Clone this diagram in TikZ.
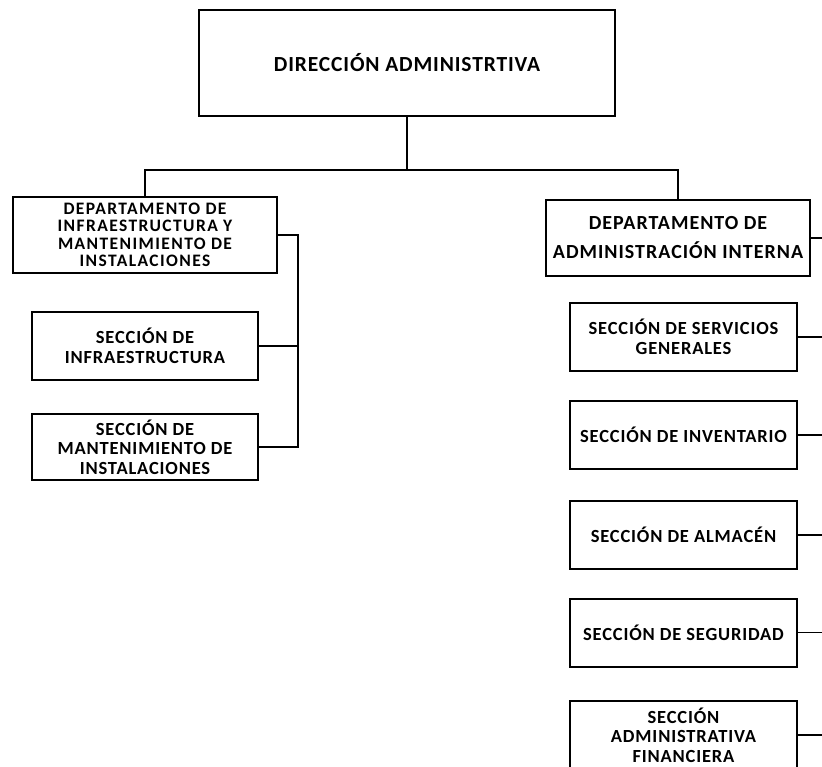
\documentclass[tikz,border=0pt]{standalone}
\usepackage{fontspec}
\setmainfont{Carlito}
\newfontfamily\secfont[LetterSpace=4.5]{Carlito}
\newfontfamily\ldfont[LetterSpace=8]{Carlito}
\newfontfamily\titfont[LetterSpace=4]{Carlito}
\newfontfamily\rdfont[LetterSpace=5]{Carlito}
\begin{document}
\begin{tikzpicture}[x=1pt,y=-1pt,
  box/.style={draw, line width=2pt, align=center, font=\secfont\bfseries\fontsize{18.5}{19.5}\selectfont, inner sep=0pt},
  conn/.style={line width=1.1pt}]
\useasboundingbox (0,0) rectangle (822,766);
\clip (0,0) rectangle (822,766);
\node[box, minimum width=416pt, minimum height=106pt, font=\titfont\bfseries\fontsize{21.5}{24}\selectfont] (top) at (407,63) {DIRECCIÓN ADMINISTRTIVA};
\node[box, minimum width=264pt, minimum height=76pt, font=\ldfont\bfseries\fontsize{17.5}{17.5}\selectfont] (ldep) at (145,235) {DEPARTAMENTO DE\\INFRAESTRUCTURA Y\\MANTENIMIENTO DE\\INSTALACIONES};
\node[box, minimum width=226pt, minimum height=68pt] (sinf) at (145,346) {SECCIÓN DE\\INFRAESTRUCTURA};
\node[box, minimum width=226pt, minimum height=66pt] (smant) at (145,447) {SECCIÓN DE\\MANTENIMIENTO DE\\INSTALACIONES};
\node[box, minimum width=264pt, minimum height=76pt, font=\rdfont\bfseries\fontsize{20}{29}\selectfont] (rdep) at (678,238) {DEPARTAMENTO DE\\ADMINISTRACIÓN INTERNA};
\node[box, minimum width=227pt, minimum height=68pt] (sserv) at (683.5,337) {SECCIÓN DE SERVICIOS\\GENERALES};
\node[box, minimum width=227pt, minimum height=68pt] (sinv) at (683.5,435) {SECCIÓN DE INVENTARIO};
\node[box, minimum width=227pt, minimum height=68pt] (salm) at (683.5,535) {SECCIÓN DE ALMACÉN};
\node[box, minimum width=227pt, minimum height=68pt] (sseg) at (683.5,632.5) {SECCIÓN DE SEGURIDAD};
\node[box, minimum width=227pt, minimum height=68pt] (sfin) at (683.5,735) {SECCIÓN\\ADMINISTRATIVA\\FINANCIERA};
\coordinate (bus) at (407,170);
\coordinate (lx) at (298,0);
\coordinate (rx) at (822,0);
\draw[conn] (top.south) -- (bus);
\draw[conn] (ldep.north) |- (bus) -| (rdep.north);
\draw[conn] (ldep.east) -| (lx |- smant.east) -- (smant.east);
\draw[conn] (sinf.east) -- (lx |- sinf.east);
\foreach \n in {rdep,sserv,sinv,salm,sseg,sfin} \draw[conn] (\n.east) -- (rx |- \n.east);
\end{tikzpicture}
\end{document}
